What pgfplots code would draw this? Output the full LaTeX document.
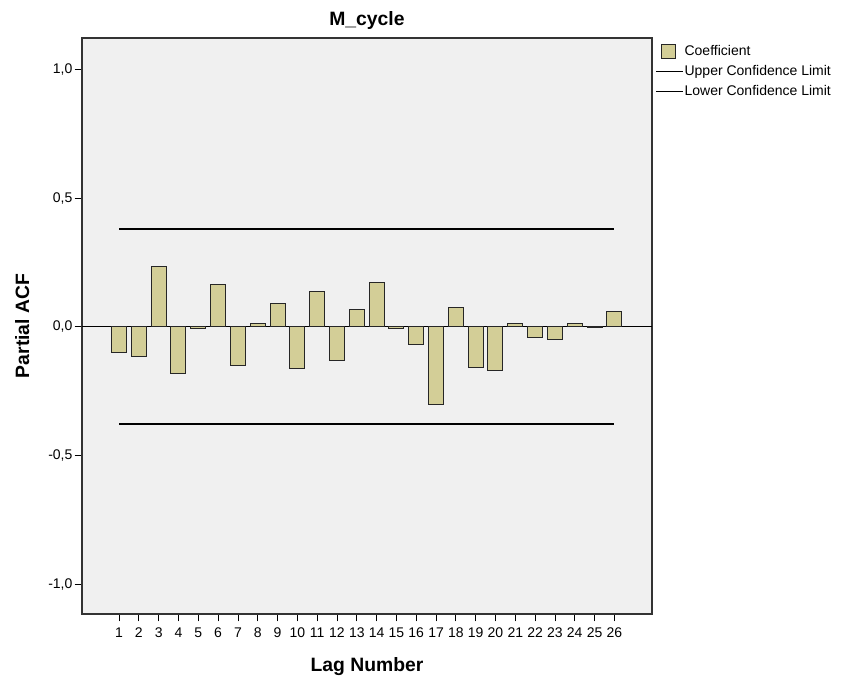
\documentclass[border=0pt]{standalone}
\usepackage{pgfplots}
\pgfplotsset{compat=1.18}
\usepackage{fontspec}
\setmainfont{Liberation Sans}
\definecolor{barcol}{HTML}{D3CE97}
\definecolor{plotbg}{HTML}{F0F0F0}
\pgfplotstableread{
lag pacf
1 -0.101
2 -0.115
3 0.234
4 -0.181
5 -0.005
6 0.164
7 -0.150
8 0.015
9 0.090
10 -0.161
11 0.136
12 -0.130
13 0.067
14 0.173
15 -0.008
16 -0.070
17 -0.303
18 0.075
19 -0.157
20 -0.168
21 0.015
22 -0.040
23 -0.047
24 0.012
25 -0.004
26 0.059
}\pacftable
\pgfplotstableread{
lag upper lower
1 0.379 -0.379
26 0.379 -0.379
}\conftable
\begin{document}
\begin{tikzpicture}
\useasboundingbox (0pt,0pt) rectangle (637.5pt,511.5pt);
\begin{axis}[
  at={(61.5pt,51pt)}, anchor=south west,
  scale only axis,
  width=427.5pt, height=432pt,
  xmin=-0.87, xmax=27.9,
  ymin=-1.115, ymax=1.122,
  axis background/.style={fill=plotbg},
  axis line style={black!80, line width=0.8pt},
  xtick={1,...,26},
  ytick={-1,-0.5,0,0.5,1},
  tick align=outside,
  major tick length=5.5pt,
  tick style={black, line width=0.6pt},
  xtick pos=bottom, ytick pos=left,
  /pgf/number format/.cd, use comma, fixed, fixed zerofill, precision=1, assume math mode=true,
  /pgfplots/.cd,
  xticklabel={\pgfmathprintnumber[fixed, precision=0, assume math mode=true]{\tick}},
  tick label style={font=\fontsize{10.5pt}{12pt}\selectfont},
  xticklabel style={inner sep=1pt, yshift=-3.5pt},
  yticklabel style={inner sep=1.5pt},
  xlabel={\textbf{Lag Number}},
  ylabel={\textbf{Partial ACF}},
  label style={font=\fontsize{14.5pt}{17pt}\selectfont},
  xlabel style={at={(axis description cs:0.5,0)}, anchor=north, yshift=-29pt},
  ylabel style={at={(axis description cs:0,0.5)}, anchor=south, yshift=36pt},
  title={\textbf{M\_cycle}},
  title style={font=\fontsize{14.5pt}{17pt}\selectfont, at={(axis description cs:0.5,1)}, anchor=south, yshift=-3pt},
  legend style={draw=none, fill=none, at={(1.005,0.99)}, anchor=north west,
    font=\fontsize{10.5pt}{12pt}\selectfont, row sep=4pt, inner sep=0pt,
    nodes={inner sep=1pt}},
  legend cell align=left,
]
\addplot[draw=black, line width=0.9pt, forget plot] coordinates {(-0.87,0) (27.9,0)};
\addplot[ybar, bar width=11.25pt, fill=barcol, draw=black!85, line width=0.75pt,
  legend image code/.code={\draw[fill=barcol, draw=black!85, line width=0.75pt] (4.5pt,-5pt) rectangle (15pt,5pt);}]
  table[x=lag, y=pacf] {\pacftable};
\addlegendentry{Coefficient}
\addplot[black, line width=1.5pt,
  legend image code/.code={\draw[black, line width=1.1pt] (0pt,0pt) -- (20pt,0pt);}]
  table[x=lag, y=upper] {\conftable};
\addlegendentry{Upper Confidence Limit}
\addplot[black, line width=1.5pt,
  legend image code/.code={\draw[black, line width=1.1pt] (0pt,0pt) -- (20pt,0pt);}]
  table[x=lag, y=lower] {\conftable};
\addlegendentry{Lower Confidence Limit}
\end{axis}
\end{tikzpicture}
\end{document}
